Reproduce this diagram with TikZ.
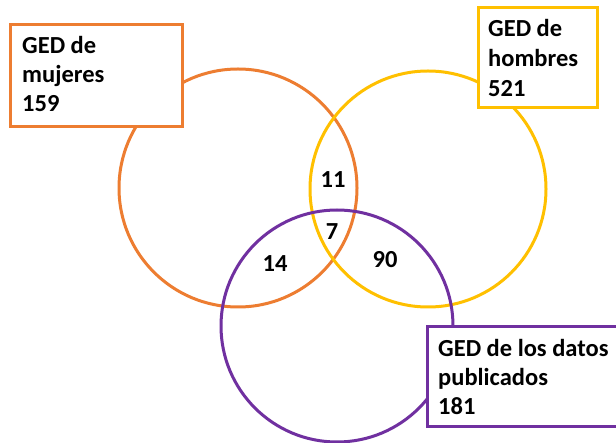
\documentclass[tikz,border=0pt]{standalone}
\usepackage{fontspec}
\setmainfont{Carlito}
\definecolor{vorange}{HTML}{ED7D31}
\definecolor{vyellow}{HTML}{FFC000}
\definecolor{vpurple}{HTML}{7030A0}
\begin{document}
\begin{tikzpicture}[x=1pt,y=-1pt,
  ring/.style={line width=3pt},
  labelbox/.style={line width=3pt, fill=white},
  txt/.style={font=\fontsize{24.5}{28}\selectfont\bfseries, inner sep=0pt, anchor=base west},
  num/.style={font=\fontsize{24.5}{28}\selectfont\bfseries, inner sep=0pt, anchor=base}]
\useasboundingbox (0,0) rectangle (616,443);
\clip (0,0) rectangle (616,443);
\fill[white] (0,0) rectangle (616,443);
% circles
\draw[ring, draw=vorange] (238,188) circle [radius=119pt];
\draw[ring, draw=vyellow] (428,189) circle [radius=118pt];
\draw[ring, draw=vpurple] (337,326) circle [radius=116pt];
% numbers
\node[num] (n11) at (333,188) {11};
\node[num] (n7) at (332,240) {7};
\node[num] (n14) at (275,272) {14};
\node[num] (n90) at (385,268) {90};
% boxes
\draw[labelbox, draw=vorange] (10,25) rectangle (182,127);
\node[txt] (m1) at (22,54) {GED de};
\node[txt] (m2) at (22,83) {mujeres};
\node[txt] (m3) at (22,112) {159};
\draw[labelbox, draw=vyellow] (478,8) rectangle (597,108);
\node[txt] (h1) at (488,37) {GED de};
\node[txt] (h2) at (488,67) {hombres};
\node[txt] (h3) at (488,97) {521};
\draw[labelbox, draw=vpurple] (427,327) rectangle (630,427);
\node[txt] (p1) at (438,357) {GED de los datos};
\node[txt] (p2) at (438,386) {publicados};
\node[txt] (p3) at (438,415) {181};
\end{tikzpicture}
\end{document}
